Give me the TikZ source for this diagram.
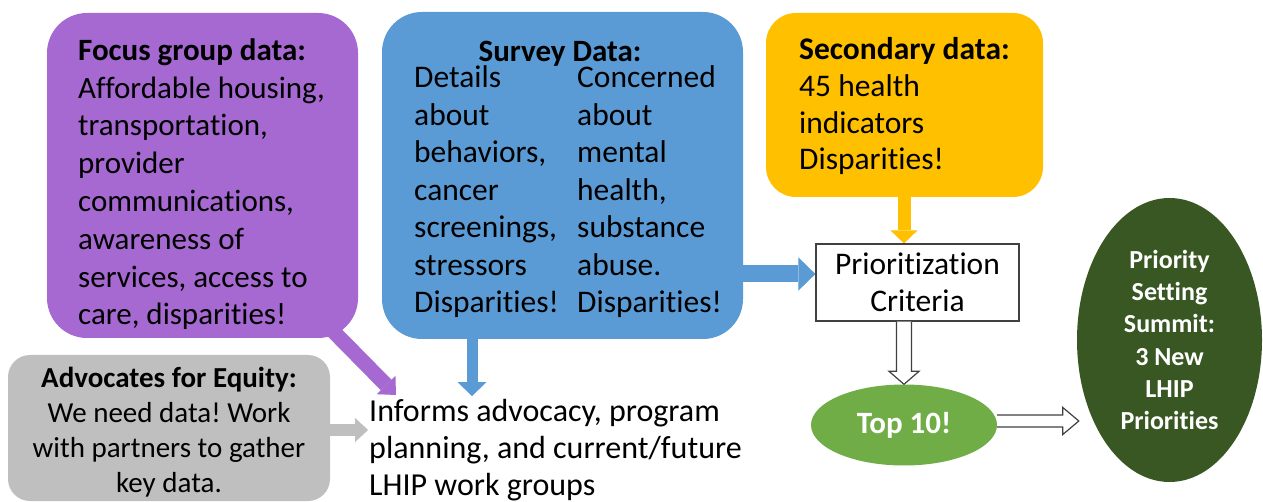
\documentclass[tikz,border=0pt]{standalone}
\usepackage{fontspec}
\setmainfont{Carlito}[Ligatures=NoCommon]
\usetikzlibrary{arrows.meta,calc,shapes.geometric,backgrounds}

\definecolor{focuspurple}{HTML}{A569D1}
\definecolor{surveyblue}{HTML}{5B9BD5}
\definecolor{secyellow}{HTML}{FFC000}
\definecolor{advgray}{HTML}{BFBFBF}
\definecolor{topgreen}{HTML}{70AD47}
\definecolor{summitgreen}{HTML}{385723}
\definecolor{edgegray}{HTML}{404040}

\begin{document}
\frenchspacing
\begin{tikzpicture}[x=1pt,y=-1pt,
  panel/.style={rectangle, draw=none, inner sep=0pt},
  % multi-line text is placed by the baseline of its last line
  bodytext/.style={inner sep=0pt, align=left, anchor=base west},
  hollow/.style={fill=white, draw=edgegray, line width=1.2pt, line join=miter},
  blockhead/.style n args={2}{-{Triangle[length=#1 0, width=#2 0, line width=0.01pt]}}
]
\useasboundingbox (0,0) rectangle (1263,502);

% ---- source panels ----
\node[panel, fill=focuspurple, rounded corners=40pt,
      minimum width=311pt, minimum height=325pt] (focus) at (202.5,175.5) {};
\node[bodytext, font=\fontsize{31}{37.8}\selectfont] (focustext) at (78,325)
  {\textbf{Focus group data:}\\Affordable housing,\\transportation,\\provider\\communications,\\awareness of\\services, access to\\care, disparities!};

\node[panel, fill=surveyblue, rounded corners=40pt,
      minimum width=361pt, minimum height=327pt] (survey) at (562.5,175.5) {};
\node[inner sep=0pt, anchor=base, font=\fontsize{31}{37.5}\selectfont\bfseries] (surveytitle) at (560,62) {Survey Data:};
\node[bodytext, font=\fontsize{31.5}{37.5}\selectfont] (surveyleft) at (414,313)
  {Details\\about\\behaviors,\\cancer\\screenings,\\stressors\\Disparities!};
\node[bodytext, font=\fontsize{31.5}{37.5}\selectfont] (surveyright) at (577,313)
  {Concerned\\about\\mental\\health,\\substance\\abuse.\\Disparities!};

\node[panel, fill=secyellow, rounded corners=30pt,
      minimum width=277pt, minimum height=184pt] (secondary) at (904.5,105) {};
\node[bodytext, font=\fontsize{31.5}{36.7}\selectfont] (sectext) at (799,170)
  {\textbf{Secondary data:}\\45 health\\indicators\\Disparities!};

\node[panel, fill=advgray, rounded corners=22pt,
      minimum width=322pt, minimum height=146pt] (adv) at (169,428) {};
\node[inner sep=0pt, align=center, anchor=base, font=\fontsize{29}{34.7}\selectfont] (advtext) at (169,492)
  {\textbf{Advocates for Equity:}\\We need data! Work\\with partners to gather\\key data.};

% ---- outcome text ----
\node[bodytext, font=\fontsize{32}{36.7}\selectfont] (informs) at (369,495)
  {Informs advocacy, program\\planning, and current/future\\LHIP work groups};

% ---- prioritization chain ----
\node[rectangle, draw=edgegray, line width=1.3pt, fill=white, inner sep=0pt,
      minimum width=203pt, minimum height=77pt, align=center,
      font=\fontsize{31.5}{37}\selectfont] (prio) at (917.5,282.5) {Prioritization\\Criteria};

\node[ellipse, fill=topgreen, inner sep=0pt, minimum width=186pt, minimum height=81pt,
      text=white, font=\fontsize{31}{37}\selectfont\bfseries] (topten) at (904,425) {Top 10!};

\node[ellipse, fill=summitgreen, inner sep=0pt, minimum width=185pt, minimum height=284pt,
      text=white, align=center, font=\fontsize{26}{32.2}\selectfont\bfseries] (summit) at (1169.5,340)
  {Priority\\Setting\\Summit:\\3 New\\LHIP\\Priorities};

% ---- arrow end points ----
\coordinate (focustip) at (396,395);
\coordinate (advtip) at (368,430);
\coordinate (surveytip) at (472,396);

% ---- solid block arrows, behind the panels ----
\begin{scope}[on background layer]
  \draw[focuspurple, line width=15pt, blockhead={14pt}{26pt}]
    ($(focus.south east)+(-28,-10)$) -- (focustip);
  \draw[advgray, line width=12pt, blockhead={13pt}{24pt}]
    ($(adv.east |- advtip)+(-6,0)$) -- (advtip);
  \draw[surveyblue, line width=11pt, blockhead={14pt}{29pt}]
    ($(surveytip |- survey.south)+(0,-6)$) -- (surveytip);
  \draw[surveyblue, line width=17pt, blockhead={17pt}{33pt}]
    ($(survey.east |- prio.west)+(-6,-8.5)$) -- ($(prio.west)+(0,-8.5)$);
  \draw[secyellow, line width=13pt, blockhead={13pt}{27pt}]
    ($(secondary.south)+(-0.5,-6)$) -- ($(secondary.south |- prio.north)+(-0.5,0)$);
\end{scope}

% ---- hollow block arrows ----
\coordinate (downstart) at (topten.north |- prio.south);
\coordinate (downend) at (topten.north);
\draw[hollow] ($(downstart)+(-7.5,0)$) -- ($(downend)+(-7.5,-13)$) -- ($(downend)+(-15,-13)$)
  -- (downend) -- ($(downend)+(15,-13)$) -- ($(downend)+(7.5,-13)$) -- ($(downstart)+(7.5,0)$);

\coordinate (rightstart) at ($(topten.east)+(0,-4)$);
\coordinate (rightend) at ($(summit.west |- rightstart)+(2,0)$);
\draw[hollow] ($(rightstart)+(0,-6)$) -- ($(rightend)+(-16,-6)$) -- ($(rightend)+(-16,-13.5)$)
  -- (rightend) -- ($(rightend)+(-16,13.5)$) -- ($(rightend)+(-16,6)$) -- ($(rightstart)+(0,6)$);
\end{tikzpicture}
\end{document}
